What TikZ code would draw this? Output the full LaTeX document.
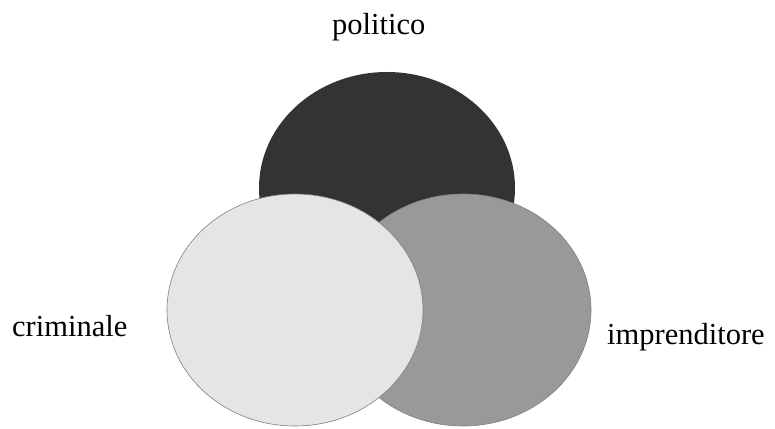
\documentclass[tikz,border=0pt]{standalone}
\usepackage{fontspec}
\setmainfont{Liberation Serif}
\usepackage{xcolor}
\usepackage{tikz}
\usetikzlibrary{positioning}
\definecolor{darkset}{RGB}{51,51,51}
\definecolor{midset}{RGB}{153,153,153}
\definecolor{lightset}{RGB}{229,229,229}
\definecolor{setrim}{RGB}{128,128,128}
\newcommand{\setblob}[3]{%
  \draw[#3] (#1,#2) ellipse [x radius=128, y radius=116];}

\begin{document}
\begin{tikzpicture}[x=1pt, y=1pt,
    setlabel/.style={anchor=base west, inner sep=0pt, font=\fontsize{30.5}{36}\selectfont}]
  \useasboundingbox (0,0) rectangle (775,428);
  \setblob{387}{240}{fill=darkset, draw=none}
  \setblob{463}{118}{fill=midset, draw=setrim, line width=0.6pt}
  \setblob{295}{118}{fill=lightset, draw=setrim, line width=0.6pt}
  \node[setlabel] (politico) at (332,393) {politico};
  \node[setlabel] (criminale) at (12,92) {criminale};
  \node[setlabel] (imprenditore) at (607,83) {imprenditore};
\end{tikzpicture}
\end{document}
